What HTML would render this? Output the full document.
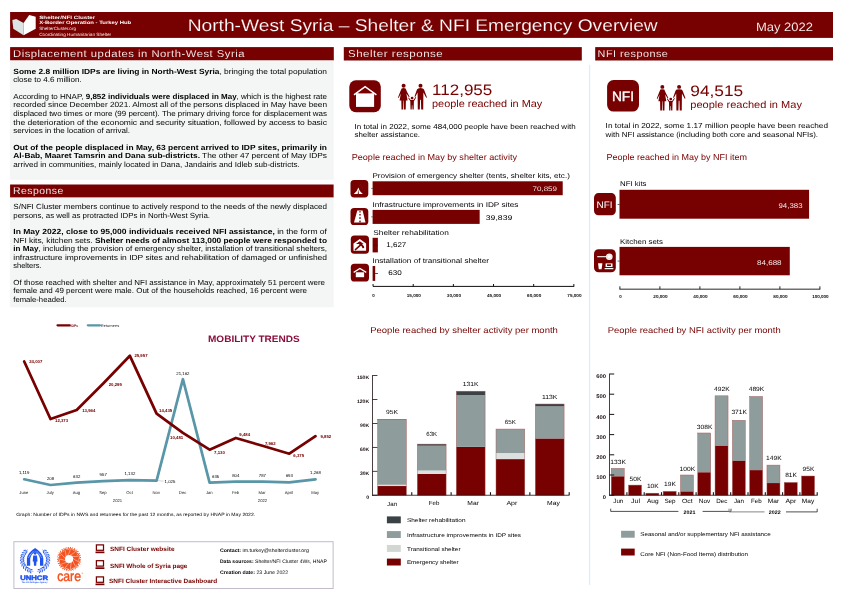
<!DOCTYPE html>
<html><head><meta charset="utf-8"><title>North-West Syria - Shelter &amp; NFI Emergency Overview</title>
<style>
html,body{margin:0;padding:0;background:#fff;}
body{width:842px;height:595px;overflow:hidden;font-family:"Liberation Sans",sans-serif;}
svg{display:block;font-family:"Liberation Sans",sans-serif;will-change:transform;text-rendering:geometricPrecision;}
text{white-space:pre;}
</style></head><body>
<svg width="842" height="595" viewBox="0 0 842 595">
<rect x="10.10" y="12.00" width="822.90" height="25.90" fill="#770000"/>
<polygon points="12.3,20.1 16.3,19.1 23.6,22.9 23.6,35.2 13.3,28.7" fill="#dde4e4"/>
<polygon points="23.6,22.9 29.2,15 35.7,16.8 35.7,28.7 23.6,35.2" fill="#ffffff"/>
<text x="39.2" y="18.6" font-size="4.6" fill="#fff" textLength="56.0" lengthAdjust="spacingAndGlyphs" font-weight="700">Shelter/NFI Cluster</text>
<text x="39.2" y="23.9" font-size="4.6" fill="#fff" textLength="92.0" lengthAdjust="spacingAndGlyphs" font-weight="700">X-Border Operation - Turkey Hub</text>
<text x="39.2" y="30.0" font-size="4.5" fill="#f8eaea" textLength="36.8" lengthAdjust="spacingAndGlyphs">ShelterCluster.org</text>
<text x="39.2" y="36.0" font-size="4.5" fill="#f8eaea" textLength="72.0" lengthAdjust="spacingAndGlyphs">Coordinating Humanitarian Shelter</text>
<text x="187.7" y="30.6" font-size="16.9" fill="#fff" textLength="470.0" lengthAdjust="spacingAndGlyphs" stroke="#770000" stroke-width="0.14">North-West Syria – Shelter &amp; NFI Emergency Overview</text>
<text x="755.9" y="31.1" font-size="12.1" fill="#fff" textLength="57.0" lengthAdjust="spacingAndGlyphs" stroke="#770000" stroke-width="0.1">May 2022</text>
<rect x="10.10" y="47.10" width="323.70" height="13.40" fill="#770000"/>
<text x="13.0" y="56.9" font-size="10.0" fill="#fff" textLength="232.0" lengthAdjust="spacingAndGlyphs" letter-spacing="0.45" stroke="#770000" stroke-width="0.1">Displacement updates in North-West Syria</text>
<rect x="343.80" y="47.10" width="238.00" height="13.40" fill="#770000"/>
<text x="348.0" y="56.9" font-size="10.0" fill="#fff" textLength="95.3" lengthAdjust="spacingAndGlyphs" letter-spacing="0.45" stroke="#770000" stroke-width="0.1">Shelter response</text>
<rect x="595.20" y="47.10" width="237.80" height="13.40" fill="#770000"/>
<text x="597.6" y="56.9" font-size="10.0" fill="#fff" textLength="70.8" lengthAdjust="spacingAndGlyphs" letter-spacing="0.45" stroke="#770000" stroke-width="0.1">NFI response</text>
<rect x="10.10" y="184.50" width="323.50" height="13.10" fill="#770000"/>
<text x="13.0" y="194.3" font-size="10.0" fill="#fff" textLength="50.8" lengthAdjust="spacingAndGlyphs" letter-spacing="0.45" stroke="#770000" stroke-width="0.1">Response</text>
<rect x="9.90" y="60.50" width="323.80" height="119.30" fill="#f4f6f5"/>
<rect x="9.90" y="197.60" width="323.80" height="109.70" fill="#f4f6f5"/>
<rect x="588.90" y="65.00" width="1.30" height="520.00" fill="#e0edf9"/>
<text x="13.3" y="73.7" font-size="7.45" fill="#000" textLength="313.7" lengthAdjust="spacingAndGlyphs"><tspan font-weight="700">Some 2.8 million IDPs are living in North-West Syria</tspan>, bringing the total population</text>
<text x="13.3" y="82.3" font-size="7.45" fill="#000" textLength="68.5" lengthAdjust="spacingAndGlyphs">close to 4.6 million.</text>
<text x="13.3" y="98.8" font-size="7.45" fill="#000" textLength="313.7" lengthAdjust="spacingAndGlyphs">According to HNAP, <tspan font-weight="700">9,852 individuals were displaced in May</tspan>, which is the highest rate</text>
<text x="13.3" y="107.4" font-size="7.45" fill="#000" textLength="313.7" lengthAdjust="spacingAndGlyphs">recorded since December 2021. Almost all of the persons displaced in May have been</text>
<text x="13.3" y="116.0" font-size="7.45" fill="#000" textLength="313.7" lengthAdjust="spacingAndGlyphs">displaced two times or more (99 percent). The primary driving force for displacement was</text>
<text x="13.3" y="124.6" font-size="7.45" fill="#000" textLength="313.7" lengthAdjust="spacingAndGlyphs">the deterioration of the economic and security situation, followed by access to basic</text>
<text x="13.3" y="133.2" font-size="7.45" fill="#000" textLength="116.7" lengthAdjust="spacingAndGlyphs">services in the location of arrival.</text>
<text x="13.3" y="149.6" font-size="7.45" fill="#000" textLength="313.7" lengthAdjust="spacingAndGlyphs"><tspan font-weight="700">Out of the people displaced in May, 63 percent arrived to IDP sites, primarily in</tspan></text>
<text x="13.3" y="158.2" font-size="7.45" fill="#000" textLength="313.7" lengthAdjust="spacingAndGlyphs"><tspan font-weight="700">Al-Bab, Maaret Tamsrin and Dana sub-districts.</tspan> The other 47 percent of May IDPs</text>
<text x="13.3" y="166.8" font-size="7.45" fill="#000" textLength="286.4" lengthAdjust="spacingAndGlyphs">arrived in communities, mainly located in Dana, Jandairis and Idleb sub-districts.</text>
<text x="13.3" y="209.0" font-size="7.45" fill="#000" textLength="313.7" lengthAdjust="spacingAndGlyphs">S/NFI Cluster members continue to actively respond to the needs of the newly displaced</text>
<text x="13.3" y="217.6" font-size="7.45" fill="#000" textLength="196.7" lengthAdjust="spacingAndGlyphs">persons, as well as protracted IDPs in North-West Syria.</text>
<text x="13.3" y="234.0" font-size="7.45" fill="#000" textLength="313.7" lengthAdjust="spacingAndGlyphs"><tspan font-weight="700">In May 2022, close to 95,000 individuals received NFI assistance,</tspan> in the form of</text>
<text x="13.3" y="242.6" font-size="7.45" fill="#000" textLength="313.7" lengthAdjust="spacingAndGlyphs">NFI kits, kitchen sets. <tspan font-weight="700">Shelter needs of almost 113,000 people were responded to</tspan></text>
<text x="13.3" y="251.2" font-size="7.45" fill="#000" textLength="313.7" lengthAdjust="spacingAndGlyphs"><tspan font-weight="700">in May</tspan>, including the provision of emergency shelter, installation of transitional shelters,</text>
<text x="13.3" y="259.8" font-size="7.45" fill="#000" textLength="313.7" lengthAdjust="spacingAndGlyphs">infrastructure improvements in IDP sites and rehabilitation of damaged or unfinished</text>
<text x="13.3" y="268.4" font-size="7.45" fill="#000" textLength="28.3" lengthAdjust="spacingAndGlyphs">shelters.</text>
<text x="13.3" y="284.6" font-size="7.45" fill="#000" textLength="311.7" lengthAdjust="spacingAndGlyphs">Of those reached with shelter and NFI assistance in May, approximately 51 percent were</text>
<text x="13.3" y="293.2" font-size="7.45" fill="#000" textLength="293.7" lengthAdjust="spacingAndGlyphs">female and 49 percent were male. Out of the households reached, 16 percent were</text>
<text x="13.3" y="301.8" font-size="7.45" fill="#000" textLength="53.3" lengthAdjust="spacingAndGlyphs">female-headed.</text>
<rect x="349.30" y="80.30" width="31.50" height="31.90" rx="6.5" ry="6.5" fill="#770000"/>
<rect x="356" y="93.2" width="18.1" height="13.7" fill="#fff"/>
<polygon points="358.6,93.3 365.1,88.4 371.6,93.3" fill="#770000"/>
<polyline points="354.6,94.4 365.1,86.6 375.8,94.4" fill="none" stroke="#fff" stroke-width="1.5" stroke-linecap="square"/>
<g transform="translate(398.00,83.80) scale(1.0)" fill="#770000"><circle cx="5.6" cy="2.0" r="2.0"/><path d="M3.6,4.6 Q5.6,4.0 7.6,4.6 L9.0,8 L11.6,13.0 L10.9,13.5 L8.4,9.6 L9.6,16.6 L7.9,16.6 L7.7,25.8 L6.0,25.8 L5.8,16.6 L5.4,16.6 L5.2,25.8 L3.5,25.8 L3.3,16.6 L1.6,16.6 L2.8,9.6 L0.7,14.2 L0,13.8 L2.2,8 Z"/><circle cx="22.5" cy="2.0" r="2.0"/><path d="M20.2,4.6 Q22.5,4.0 24.8,4.6 Q26.0,5.0 26.4,6.6 L29,13.6 L28.2,14.0 L25.4,8.6 L25.2,25.8 L23.2,25.8 L22.9,16.0 L22.1,16.0 L21.8,25.8 L19.8,25.8 L19.6,8.6 L17.2,13.2 L16.5,12.8 L18.6,6.6 Q19.0,5.0 20.2,4.6 Z"/><circle cx="14.1" cy="14.3" r="1.4"/><path d="M12.7,16.2 L15.5,16.2 L17.6,13.2 L18.2,13.8 L15.9,17.4 L15.7,25.8 L14.5,25.8 L14.3,21.4 L13.9,21.4 L13.7,25.8 L12.5,25.8 L12.3,17.4 L10.2,14.2 L10.8,13.6 Z"/></g>
<text x="432.0" y="94.7" font-size="15.2" fill="#770000" textLength="60.3" lengthAdjust="spacingAndGlyphs">112,955</text>
<text x="432.0" y="107.0" font-size="10.2" fill="#770000" textLength="110.3" lengthAdjust="spacingAndGlyphs">people reached in May</text>
<text x="354.5" y="128.5" font-size="7.2" fill="#000" textLength="221.1" lengthAdjust="spacingAndGlyphs">In total in 2022, some 484,000 people have been reached with</text>
<text x="354.5" y="137.2" font-size="7.2" fill="#000" textLength="65.5" lengthAdjust="spacingAndGlyphs">shelter assistance.</text>
<text x="351.7" y="160.2" font-size="8.6" fill="#770000" textLength="165.3" lengthAdjust="spacingAndGlyphs">People reached in May by shelter activity</text>
<rect x="372.60" y="181.30" width="190.11" height="13.90" fill="#770000"/>
<text x="372.4" y="178.2" font-size="6.9" fill="#000" textLength="197.5" lengthAdjust="spacingAndGlyphs">Provision of emergency shelter (tents, shelter kits, etc.)</text>
<rect x="372.60" y="209.90" width="107.06" height="14.00" fill="#770000"/>
<text x="372.4" y="206.8" font-size="6.9" fill="#000" textLength="146.0" lengthAdjust="spacingAndGlyphs">Infrastructure improvements in IDP sites</text>
<rect x="372.60" y="237.80" width="5.26" height="14.60" fill="#770000"/>
<text x="373.3" y="234.8" font-size="6.9" fill="#000" textLength="75.5" lengthAdjust="spacingAndGlyphs">Shelter rehabilitation</text>
<rect x="372.60" y="266.00" width="2.59" height="14.90" fill="#770000"/>
<text x="372.4" y="262.9" font-size="6.9" fill="#000" textLength="116.5" lengthAdjust="spacingAndGlyphs">Installation of transitional shelter</text>
<text x="557.0" y="190.7" font-size="6.6" fill="#f3e2e2" text-anchor="end" textLength="24.5" lengthAdjust="spacingAndGlyphs">70,859</text>
<text x="485.8" y="220.3" font-size="6.9" fill="#000" textLength="26.5" lengthAdjust="spacingAndGlyphs">39,839</text>
<text x="386.3" y="247.3" font-size="6.9" fill="#000" textLength="20.0" lengthAdjust="spacingAndGlyphs">1,627</text>
<text x="388.2" y="275.4" font-size="6.9" fill="#000" textLength="13.5" lengthAdjust="spacingAndGlyphs">630</text>
<rect x="371.30" y="187.95" width="1.40" height="0.70" fill="#3a1a1a"/>
<rect x="371.30" y="216.55" width="1.40" height="0.70" fill="#3a1a1a"/>
<rect x="375.10" y="273.00" width="2.80" height="0.80" fill="#222"/>
<rect x="373.00" y="244.80" width="4.80" height="0.70" fill="#4a0000"/>
<rect x="373.00" y="285.90" width="201.20" height="1.00" fill="#111"/>
<rect x="372.55" y="284.00" width="1.00" height="2.40" fill="#111"/>
<text x="373.6" y="296.6" font-size="4.4" fill="#111" text-anchor="middle" font-weight="700">0</text>
<rect x="412.71" y="284.00" width="1.00" height="2.40" fill="#111"/>
<text x="413.8" y="296.6" font-size="4.4" fill="#111" text-anchor="middle" textLength="14.2" lengthAdjust="spacingAndGlyphs" font-weight="700">15,000</text>
<rect x="452.87" y="284.00" width="1.00" height="2.40" fill="#111"/>
<text x="453.9" y="296.6" font-size="4.4" fill="#111" text-anchor="middle" textLength="14.2" lengthAdjust="spacingAndGlyphs" font-weight="700">30,000</text>
<rect x="493.03" y="284.00" width="1.00" height="2.40" fill="#111"/>
<text x="494.1" y="296.6" font-size="4.4" fill="#111" text-anchor="middle" textLength="14.2" lengthAdjust="spacingAndGlyphs" font-weight="700">45,000</text>
<rect x="533.19" y="284.00" width="1.00" height="2.40" fill="#111"/>
<text x="534.2" y="296.6" font-size="4.4" fill="#111" text-anchor="middle" textLength="14.2" lengthAdjust="spacingAndGlyphs" font-weight="700">60,000</text>
<rect x="573.35" y="284.00" width="1.00" height="2.40" fill="#111"/>
<text x="574.4" y="296.6" font-size="4.4" fill="#111" text-anchor="middle" textLength="14.2" lengthAdjust="spacingAndGlyphs" font-weight="700">75,000</text>
<rect x="607.10" y="80.00" width="31.90" height="31.60" rx="6.5" ry="6.5" fill="#770000"/>
<text x="611.9" y="100.8" font-size="13.7" fill="#fff" textLength="22.2" lengthAdjust="spacingAndGlyphs" stroke="#fff" stroke-width="0.35">NFI</text>
<g transform="translate(656.80,84.90) scale(0.99)" fill="#770000"><circle cx="5.6" cy="2.0" r="2.0"/><path d="M3.6,4.6 Q5.6,4.0 7.6,4.6 L9.0,8 L11.6,13.0 L10.9,13.5 L8.4,9.6 L9.6,16.6 L7.9,16.6 L7.7,25.8 L6.0,25.8 L5.8,16.6 L5.4,16.6 L5.2,25.8 L3.5,25.8 L3.3,16.6 L1.6,16.6 L2.8,9.6 L0.7,14.2 L0,13.8 L2.2,8 Z"/><circle cx="22.5" cy="2.0" r="2.0"/><path d="M20.2,4.6 Q22.5,4.0 24.8,4.6 Q26.0,5.0 26.4,6.6 L29,13.6 L28.2,14.0 L25.4,8.6 L25.2,25.8 L23.2,25.8 L22.9,16.0 L22.1,16.0 L21.8,25.8 L19.8,25.8 L19.6,8.6 L17.2,13.2 L16.5,12.8 L18.6,6.6 Q19.0,5.0 20.2,4.6 Z"/><circle cx="14.1" cy="14.3" r="1.4"/><path d="M12.7,16.2 L15.5,16.2 L17.6,13.2 L18.2,13.8 L15.9,17.4 L15.7,25.8 L14.5,25.8 L14.3,21.4 L13.9,21.4 L13.7,25.8 L12.5,25.8 L12.3,17.4 L10.2,14.2 L10.8,13.6 Z"/></g>
<text x="690.3" y="96.0" font-size="15.2" fill="#770000" textLength="52.9" lengthAdjust="spacingAndGlyphs">94,515</text>
<text x="690.3" y="107.9" font-size="10.2" fill="#770000" textLength="111.6" lengthAdjust="spacingAndGlyphs">people reached in May</text>
<text x="605.6" y="128.0" font-size="7.2" fill="#000" textLength="222.4" lengthAdjust="spacingAndGlyphs">In total in 2022, some 1.17 million people have been reached</text>
<text x="605.6" y="137.0" font-size="7.2" fill="#000" textLength="212.4" lengthAdjust="spacingAndGlyphs">with NFI assistance (including both core and seasonal NFIs).</text>
<text x="606.5" y="160.2" font-size="8.6" fill="#770000" textLength="140.6" lengthAdjust="spacingAndGlyphs">People reached in May by NFI item</text>
<text x="620.0" y="185.6" font-size="6.9" fill="#000" textLength="26.5" lengthAdjust="spacingAndGlyphs">NFI kits</text>
<rect x="619.50" y="189.80" width="189.57" height="28.90" fill="#770000"/>
<text x="802.5" y="207.5" font-size="6.9" fill="#f3e2e2" text-anchor="end" textLength="24.0" lengthAdjust="spacingAndGlyphs">94,383</text>
<text x="620.0" y="244.3" font-size="6.9" fill="#000" textLength="43.0" lengthAdjust="spacingAndGlyphs">Kitchen sets</text>
<rect x="619.50" y="246.90" width="170.28" height="28.40" fill="#770000"/>
<text x="781.6" y="264.6" font-size="6.9" fill="#f3e2e2" text-anchor="end" textLength="24.6" lengthAdjust="spacingAndGlyphs">84,688</text>
<rect x="594.00" y="193.10" width="21.80" height="22.10" rx="4.5" ry="4.5" fill="#770000"/>
<text x="596.6" y="207.7" font-size="9.5" fill="#fff" textLength="16.0" lengthAdjust="spacingAndGlyphs">NFI</text>
<rect x="594.00" y="249.20" width="21.80" height="23.00" rx="4.5" ry="4.5" fill="#770000"/>
<line x1="597.2" y1="256.7" x2="606.2" y2="256.7" stroke="#fff" stroke-width="1.1"/>
<circle cx="609.3" cy="256.7" r="3.3" fill="#fff"/>
<circle cx="609.3" cy="256.7" r="2.1" fill="none" stroke="#e3c4c4" stroke-width="0.5"/>
<polygon points="598.0,263.2 602.4,263.2 601.6,269.2 598.8,269.2" fill="#fff"/>
<rect x="605.6" y="263.4" width="6.9" height="3.6" fill="#fff"/>
<rect x="607.0" y="264.3" width="4.0" height="1.7" fill="#770000"/>
<rect x="604.6" y="268.0" width="8.8" height="1.2" fill="#fff"/>
<rect x="617.60" y="204.20" width="2.00" height="0.70" fill="#222"/>
<rect x="617.60" y="260.70" width="2.00" height="0.70" fill="#222"/>
<rect x="619.50" y="288.70" width="200.80" height="0.90" fill="#111"/>
<rect x="619.45" y="286.30" width="0.90" height="2.90" fill="#111"/>
<text x="620.4" y="297.7" font-size="4.4" fill="#111" text-anchor="middle" font-weight="700">0</text>
<rect x="659.45" y="286.30" width="0.90" height="2.90" fill="#111"/>
<text x="660.4" y="297.7" font-size="4.4" fill="#111" text-anchor="middle" textLength="14.2" lengthAdjust="spacingAndGlyphs" font-weight="700">20,000</text>
<rect x="699.45" y="286.30" width="0.90" height="2.90" fill="#111"/>
<text x="700.4" y="297.7" font-size="4.4" fill="#111" text-anchor="middle" textLength="14.2" lengthAdjust="spacingAndGlyphs" font-weight="700">40,000</text>
<rect x="739.45" y="286.30" width="0.90" height="2.90" fill="#111"/>
<text x="740.4" y="297.7" font-size="4.4" fill="#111" text-anchor="middle" textLength="14.2" lengthAdjust="spacingAndGlyphs" font-weight="700">60,000</text>
<rect x="779.45" y="286.30" width="0.90" height="2.90" fill="#111"/>
<text x="780.4" y="297.7" font-size="4.4" fill="#111" text-anchor="middle" textLength="14.2" lengthAdjust="spacingAndGlyphs" font-weight="700">80,000</text>
<rect x="819.45" y="286.30" width="0.90" height="2.90" fill="#111"/>
<text x="820.4" y="297.7" font-size="4.4" fill="#111" text-anchor="middle" textLength="16.5" lengthAdjust="spacingAndGlyphs" font-weight="700">100,000</text>
<text x="208.0" y="342.2" font-size="9.3" fill="#8a0f3c" textLength="91.7" lengthAdjust="spacingAndGlyphs" font-weight="700">MOBILITY TRENDS</text>
<line x1="57.5" y1="325.3" x2="69.7" y2="325.3" stroke="#770000" stroke-width="2.2" stroke-linecap="round"/>
<text x="70.5" y="326.7" font-size="3.8" fill="#770000" textLength="7.5" lengthAdjust="spacingAndGlyphs" font-weight="700">IDPs</text>
<line x1="87.8" y1="325.3" x2="100" y2="325.3" stroke="#5896a8" stroke-width="2.2" stroke-linecap="round"/>
<text x="100.8" y="326.7" font-size="3.8" fill="#222" textLength="18.5" lengthAdjust="spacingAndGlyphs">Returnees</text>
<polyline points="24.2,479.3 50.5,485.0 76.7,482.6 103.2,481.2 129.9,480.2 156.6,480.6 182.9,379.2 209.6,482.6 235.8,481.6 262.4,481.7 289.3,482.4 315.5,479.3" fill="none" stroke="#5896a8" stroke-width="2.7" stroke-linejoin="round" stroke-linecap="round"/>
<polyline points="24.2,361.5 50.5,419.0 76.7,410.0 103.2,383.5 129.9,355.8 156.6,413.7 182.9,432.8 209.6,449.7 235.8,438.0 262.4,445.8 289.3,453.7 315.5,436.2" fill="none" stroke="#770000" stroke-width="2.75" stroke-linejoin="round" stroke-linecap="round"/>
<text x="29.2" y="362.5" font-size="4.3" fill="#770000" font-weight="700">24,007</text>
<text x="55.0" y="422.4" font-size="4.3" fill="#770000" font-weight="700">12,373</text>
<text x="82.2" y="411.8" font-size="4.3" fill="#770000" font-weight="700">13,964</text>
<text x="108.7" y="385.9" font-size="4.3" fill="#770000" font-weight="700">20,295</text>
<text x="134.4" y="357.2" font-size="4.3" fill="#770000" font-weight="700">25,957</text>
<text x="159.1" y="411.5" font-size="4.3" fill="#770000" font-weight="700">14,435</text>
<text x="170.1" y="438.6" font-size="4.3" fill="#770000" font-weight="700">10,481</text>
<text x="214.1" y="454.1" font-size="4.3" fill="#770000" font-weight="700">7,130</text>
<text x="239.3" y="436.0" font-size="4.3" fill="#770000" font-weight="700">9,484</text>
<text x="264.9" y="444.6" font-size="4.3" fill="#770000" font-weight="700">7,962</text>
<text x="293.3" y="456.5" font-size="4.3" fill="#770000" font-weight="700">6,375</text>
<text x="320.5" y="437.8" font-size="4.3" fill="#770000" font-weight="700">9,852</text>
<text x="24.2" y="474.3" font-size="4.3" fill="#000" text-anchor="middle">1,119</text>
<text x="50.5" y="480.0" font-size="4.3" fill="#000" text-anchor="middle">208</text>
<text x="76.7" y="477.6" font-size="4.3" fill="#000" text-anchor="middle">632</text>
<text x="103.2" y="476.2" font-size="4.3" fill="#000" text-anchor="middle">957</text>
<text x="129.9" y="475.2" font-size="4.3" fill="#000" text-anchor="middle">1,132</text>
<line x1="158.1" y1="480.6" x2="163.6" y2="481.20000000000005" stroke="#999" stroke-width="0.4"/>
<text x="164.6" y="482.5" font-size="4.3" fill="#000">1,025</text>
<text x="182.9" y="375.0" font-size="4.3" fill="#000" text-anchor="middle">21,162</text>
<text x="215.6" y="478.0" font-size="4.3" fill="#000" text-anchor="middle">635</text>
<text x="235.8" y="476.6" font-size="4.3" fill="#000" text-anchor="middle">804</text>
<text x="262.4" y="476.7" font-size="4.3" fill="#000" text-anchor="middle">787</text>
<text x="289.3" y="477.4" font-size="4.3" fill="#000" text-anchor="middle">693</text>
<text x="315.5" y="474.3" font-size="4.3" fill="#000" text-anchor="middle">1,268</text>
<text x="23.9" y="494.3" font-size="4.2" fill="#222" text-anchor="middle">June</text>
<text x="50.2" y="494.3" font-size="4.2" fill="#222" text-anchor="middle">July</text>
<text x="76.4" y="494.3" font-size="4.2" fill="#222" text-anchor="middle">Aug</text>
<text x="102.9" y="494.3" font-size="4.2" fill="#222" text-anchor="middle">Sep</text>
<text x="129.6" y="494.3" font-size="4.2" fill="#222" text-anchor="middle">Oct</text>
<text x="156.3" y="494.3" font-size="4.2" fill="#222" text-anchor="middle">Nov</text>
<text x="182.6" y="494.3" font-size="4.2" fill="#222" text-anchor="middle">Dec</text>
<text x="209.3" y="494.3" font-size="4.2" fill="#222" text-anchor="middle">Jan</text>
<text x="235.5" y="494.3" font-size="4.2" fill="#222" text-anchor="middle">Feb</text>
<text x="262.1" y="494.3" font-size="4.2" fill="#222" text-anchor="middle">Mar</text>
<text x="289.0" y="494.3" font-size="4.2" fill="#222" text-anchor="middle">April</text>
<text x="315.2" y="494.3" font-size="4.2" fill="#222" text-anchor="middle">May</text>
<text x="117.5" y="501.8" font-size="4.2" fill="#222" text-anchor="middle">2021</text>
<text x="262.5" y="501.8" font-size="4.2" fill="#222" text-anchor="middle">2022</text>
<text x="16.2" y="516.0" font-size="4.6" fill="#000" textLength="239.0" lengthAdjust="spacingAndGlyphs">Graph: Number of IDPs in NWS and returnees for the past 12 months, as reported by HNAP in May 2022.</text>
<rect x="13.9" y="541.7" width="319.2" height="46.8" fill="#fff" stroke="#c2bbca" stroke-width="1"/>
<g fill="#1f55ee" stroke="none"><polyline points="33.29,571.48 30.76,570.91 28.40,569.89 26.32,568.45 24.58,566.65 23.27,564.58 22.43,562.30 22.10,559.91 22.30,557.52 23.00,555.20 24.20,553.06 25.83,551.19 27.83,549.65" fill="none" stroke="#1f55ee" stroke-width="0.45"/><ellipse cx="30.33" cy="572.14" rx="1.55" ry="0.5" transform="rotate(-128.5 30.33 572.14)"/><ellipse cx="31.19" cy="569.69" rx="1.55" ry="0.5" transform="rotate(-192.5 31.19 569.69)"/><ellipse cx="27.73" cy="571.00" rx="1.55" ry="0.5" transform="rotate(-117.0 27.73 571.00)"/><ellipse cx="29.07" cy="568.77" rx="1.55" ry="0.5" transform="rotate(-181.0 29.07 568.77)"/><ellipse cx="25.44" cy="569.41" rx="1.55" ry="0.5" transform="rotate(-105.5 25.44 569.41)"/><ellipse cx="27.20" cy="567.49" rx="1.55" ry="0.5" transform="rotate(-169.5 27.20 567.49)"/><ellipse cx="23.53" cy="567.42" rx="1.55" ry="0.5" transform="rotate(-94.0 23.53 567.42)"/><ellipse cx="25.63" cy="565.89" rx="1.55" ry="0.5" transform="rotate(-158.0 25.63 565.89)"/><ellipse cx="22.09" cy="565.12" rx="1.55" ry="0.5" transform="rotate(-82.5 22.09 565.12)"/><ellipse cx="24.45" cy="564.04" rx="1.55" ry="0.5" transform="rotate(-146.5 24.45 564.04)"/><ellipse cx="21.17" cy="562.59" rx="1.55" ry="0.5" transform="rotate(-71.0 21.17 562.59)"/><ellipse cx="23.70" cy="562.01" rx="1.55" ry="0.5" transform="rotate(-135.0 23.70 562.01)"/><ellipse cx="20.80" cy="559.95" rx="1.55" ry="0.5" transform="rotate(-59.5 20.80 559.95)"/><ellipse cx="23.40" cy="559.88" rx="1.55" ry="0.5" transform="rotate(-123.5 23.40 559.88)"/><ellipse cx="21.02" cy="557.29" rx="1.55" ry="0.5" transform="rotate(-48.0 21.02 557.29)"/><ellipse cx="23.58" cy="557.74" rx="1.55" ry="0.5" transform="rotate(-112.0 23.58 557.74)"/><ellipse cx="21.80" cy="554.73" rx="1.55" ry="0.5" transform="rotate(-36.5 21.80 554.73)"/><ellipse cx="24.21" cy="555.68" rx="1.55" ry="0.5" transform="rotate(-100.5 24.21 555.68)"/><ellipse cx="23.11" cy="552.36" rx="1.55" ry="0.5" transform="rotate(-25.0 23.11 552.36)"/><ellipse cx="25.29" cy="553.77" rx="1.55" ry="0.5" transform="rotate(-89.0 25.29 553.77)"/><ellipse cx="24.90" cy="550.28" rx="1.55" ry="0.5" transform="rotate(-13.5 24.90 550.28)"/><ellipse cx="26.75" cy="552.10" rx="1.55" ry="0.5" transform="rotate(-77.5 26.75 552.10)"/><polyline points="36.91,571.48 39.44,570.91 41.80,569.89 43.88,568.45 45.62,566.65 46.93,564.58 47.77,562.30 48.10,559.91 47.90,557.52 47.20,555.20 46.00,553.06 44.37,551.19 42.37,549.65" fill="none" stroke="#1f55ee" stroke-width="0.45"/><ellipse cx="39.87" cy="572.14" rx="1.55" ry="0.5" transform="rotate(308.5 39.87 572.14)"/><ellipse cx="39.01" cy="569.69" rx="1.55" ry="0.5" transform="rotate(372.5 39.01 569.69)"/><ellipse cx="42.47" cy="571.00" rx="1.55" ry="0.5" transform="rotate(297.0 42.47 571.00)"/><ellipse cx="41.13" cy="568.77" rx="1.55" ry="0.5" transform="rotate(361.0 41.13 568.77)"/><ellipse cx="44.76" cy="569.41" rx="1.55" ry="0.5" transform="rotate(285.5 44.76 569.41)"/><ellipse cx="43.00" cy="567.49" rx="1.55" ry="0.5" transform="rotate(349.5 43.00 567.49)"/><ellipse cx="46.67" cy="567.42" rx="1.55" ry="0.5" transform="rotate(274.0 46.67 567.42)"/><ellipse cx="44.57" cy="565.89" rx="1.55" ry="0.5" transform="rotate(338.0 44.57 565.89)"/><ellipse cx="48.11" cy="565.12" rx="1.55" ry="0.5" transform="rotate(262.5 48.11 565.12)"/><ellipse cx="45.75" cy="564.04" rx="1.55" ry="0.5" transform="rotate(326.5 45.75 564.04)"/><ellipse cx="49.03" cy="562.59" rx="1.55" ry="0.5" transform="rotate(251.0 49.03 562.59)"/><ellipse cx="46.50" cy="562.01" rx="1.55" ry="0.5" transform="rotate(315.0 46.50 562.01)"/><ellipse cx="49.40" cy="559.95" rx="1.55" ry="0.5" transform="rotate(239.5 49.40 559.95)"/><ellipse cx="46.80" cy="559.88" rx="1.55" ry="0.5" transform="rotate(303.5 46.80 559.88)"/><ellipse cx="49.18" cy="557.29" rx="1.55" ry="0.5" transform="rotate(228.0 49.18 557.29)"/><ellipse cx="46.62" cy="557.74" rx="1.55" ry="0.5" transform="rotate(292.0 46.62 557.74)"/><ellipse cx="48.40" cy="554.73" rx="1.55" ry="0.5" transform="rotate(216.5 48.40 554.73)"/><ellipse cx="45.99" cy="555.68" rx="1.55" ry="0.5" transform="rotate(280.5 45.99 555.68)"/><ellipse cx="47.09" cy="552.36" rx="1.55" ry="0.5" transform="rotate(205.0 47.09 552.36)"/><ellipse cx="44.91" cy="553.77" rx="1.55" ry="0.5" transform="rotate(269.0 44.91 553.77)"/><ellipse cx="45.30" cy="550.28" rx="1.55" ry="0.5" transform="rotate(193.5 45.30 550.28)"/><ellipse cx="43.45" cy="552.10" rx="1.55" ry="0.5" transform="rotate(257.5 43.45 552.10)"/><path d="M26.9,565.8 L26.9,558.6 Q27.6,552.6 35.1,548.0 Q42.6,552.6 43.3,558.6 L43.3,565.8 L40.0,565.8 L40.0,559.0 Q39.6,555.0 35.1,551.6 Q30.6,555.0 30.2,559.0 L30.2,565.8 Z"/><path d="M29.0,556.0 L33.6,551.0 M41.2,556.0 L36.6,551.0 M28.2,558.0 L31.6,553.6 M42.0,558.0 L38.6,553.6" stroke="#fff" stroke-width="0.35" fill="none"/><circle cx="35.1" cy="553.3" r="1.35"/><path d="M33.2,555.4 L37.0,555.4 L37.5,561.4 L36.5,561.4 L36.2,565.8 L34.0,565.8 L33.7,561.4 L32.7,561.4 Z"/></g>
<text x="20.2" y="579.9" font-size="6.5" fill="#1f55ee" textLength="27.8" lengthAdjust="spacingAndGlyphs" font-weight="700" stroke="#1f55ee" stroke-width="0.45">UNHCR</text>
<text x="21.5" y="582.6" font-size="2.2" fill="#1f55ee" textLength="26.0" lengthAdjust="spacingAndGlyphs" font-weight="700">The UN Refugee Agency</text>
<g fill="none" stroke="#f4511e" stroke-linecap="round"><circle cx="69.1" cy="559.0" r="6.9" stroke-width="5.6"/><line x1="77.99" y1="561.36" x2="80.78" y2="559.70" stroke-width="0.95"/><line x1="77.99" y1="561.36" x2="80.41" y2="562.00" stroke-width="0.95"/><line x1="77.99" y1="561.36" x2="79.59" y2="564.19" stroke-width="0.95"/><line x1="77.99" y1="561.36" x2="77.48" y2="565.50" stroke-width="0.95"/><line x1="75.30" y1="565.79" x2="78.55" y2="565.90" stroke-width="0.95"/><line x1="75.30" y1="565.79" x2="76.99" y2="567.64" stroke-width="0.95"/><line x1="75.30" y1="565.79" x2="75.12" y2="569.04" stroke-width="0.95"/><line x1="75.30" y1="565.79" x2="72.63" y2="568.99" stroke-width="0.95"/><line x1="70.65" y1="568.07" x2="73.32" y2="569.91" stroke-width="0.95"/><line x1="70.65" y1="568.07" x2="71.07" y2="570.53" stroke-width="0.95"/><line x1="70.65" y1="568.07" x2="68.73" y2="570.69" stroke-width="0.95"/><line x1="70.65" y1="568.07" x2="66.67" y2="569.32" stroke-width="0.95"/><line x1="65.50" y1="567.47" x2="66.75" y2="570.46" stroke-width="0.95"/><line x1="65.50" y1="567.47" x2="64.52" y2="569.77" stroke-width="0.95"/><line x1="65.50" y1="567.47" x2="62.47" y2="568.64" stroke-width="0.95"/><line x1="65.50" y1="567.47" x2="61.48" y2="566.37" stroke-width="0.95"/><line x1="61.49" y1="564.17" x2="60.92" y2="567.37" stroke-width="0.95"/><line x1="61.49" y1="564.17" x2="59.42" y2="565.58" stroke-width="0.95"/><line x1="61.49" y1="564.17" x2="58.31" y2="563.53" stroke-width="0.95"/><line x1="61.49" y1="564.17" x2="58.71" y2="561.08" stroke-width="0.95"/><line x1="59.90" y1="559.24" x2="57.70" y2="561.62" stroke-width="0.95"/><line x1="59.90" y1="559.24" x2="57.40" y2="559.30" stroke-width="0.95"/><line x1="59.90" y1="559.24" x2="57.58" y2="556.97" stroke-width="0.95"/><line x1="59.90" y1="559.24" x2="59.23" y2="555.13" stroke-width="0.95"/><line x1="61.23" y1="554.23" x2="58.09" y2="555.04" stroke-width="0.95"/><line x1="61.23" y1="554.23" x2="59.10" y2="552.93" stroke-width="0.95"/><line x1="61.23" y1="554.23" x2="60.50" y2="551.07" stroke-width="0.95"/><line x1="61.23" y1="554.23" x2="62.89" y2="550.41" stroke-width="0.95"/><line x1="65.06" y1="550.73" x2="61.98" y2="549.72" stroke-width="0.95"/><line x1="65.06" y1="550.73" x2="63.96" y2="548.49" stroke-width="0.95"/><line x1="65.06" y1="550.73" x2="66.16" y2="547.68" stroke-width="0.95"/><line x1="65.06" y1="550.73" x2="68.52" y2="548.42" stroke-width="0.95"/><line x1="70.17" y1="549.86" x2="68.13" y2="547.34" stroke-width="0.95"/><line x1="70.17" y1="549.86" x2="70.46" y2="547.38" stroke-width="0.95"/><line x1="70.17" y1="549.86" x2="72.75" y2="547.88" stroke-width="0.95"/><line x1="70.17" y1="549.86" x2="74.34" y2="549.78" stroke-width="0.95"/><line x1="74.94" y1="551.89" x2="74.59" y2="548.67" stroke-width="0.95"/><line x1="74.94" y1="551.89" x2="76.53" y2="549.96" stroke-width="0.95"/><line x1="74.94" y1="551.89" x2="78.18" y2="551.62" stroke-width="0.95"/><line x1="74.94" y1="551.89" x2="78.49" y2="554.08" stroke-width="0.95"/><line x1="77.86" y1="556.18" x2="79.30" y2="553.27" stroke-width="0.95"/><line x1="77.86" y1="556.18" x2="80.24" y2="555.41" stroke-width="0.95"/><line x1="77.86" y1="556.18" x2="80.73" y2="557.70" stroke-width="0.95"/><line x1="77.86" y1="556.18" x2="79.66" y2="559.94" stroke-width="0.95"/></g><g fill="none" stroke="#fff" stroke-width="0.45" stroke-linecap="round"><path d="M73.28,558.56 Q75.89,560.70 78.53,561.66"/><path d="M72.85,560.89 Q73.89,564.10 75.59,566.34"/><path d="M71.23,562.62 Q70.37,565.88 70.59,568.69"/><path d="M68.94,563.20 Q66.45,565.48 65.12,567.96"/><path d="M66.70,562.44 Q63.37,563.02 60.91,564.38"/><path d="M65.22,560.60 Q62.11,559.28 59.30,559.10"/><path d="M64.97,558.24 Q63.06,555.46 60.80,553.79"/><path d="M66.03,556.13 Q65.94,552.75 64.94,550.13"/><path d="M68.07,554.93 Q69.82,552.04 70.39,549.29"/><path d="M70.44,555.02 Q73.47,553.53 75.44,551.53"/><path d="M72.38,556.37 Q75.73,556.76 78.47,556.14"/></g>
<text x="57.2" y="581.1" font-size="14.2" fill="#f4511e" textLength="23.8" lengthAdjust="spacingAndGlyphs" stroke="#f4511e" stroke-width="0.45">care</text>
<text x="81.6" y="574.0" font-size="2.4" fill="#f4511e">®</text>
<rect x="96.40" y="544.90" width="7.1" height="5.4" fill="#fff" stroke="#770000" stroke-width="1.25"/>
<rect x="95.50" y="551.50" width="8.9" height="1.7" fill="#770000"/>
<rect x="96.40" y="560.70" width="7.1" height="5.4" fill="#fff" stroke="#770000" stroke-width="1.25"/>
<rect x="95.50" y="567.30" width="8.9" height="1.7" fill="#770000"/>
<rect x="96.40" y="576.90" width="7.1" height="5.4" fill="#fff" stroke="#770000" stroke-width="1.25"/>
<rect x="95.50" y="583.50" width="8.9" height="1.7" fill="#770000"/>
<text x="110.0" y="551.0" font-size="6.2" fill="#770000" textLength="64.5" lengthAdjust="spacingAndGlyphs" font-weight="700">SNFI Cluster website</text>
<text x="110.0" y="568.3" font-size="6.2" fill="#770000" textLength="77.4" lengthAdjust="spacingAndGlyphs" font-weight="700">SNFI Whole of Syria page</text>
<text x="109.0" y="583.2" font-size="6.2" fill="#770000" textLength="108.3" lengthAdjust="spacingAndGlyphs" font-weight="700">SNFI Cluster Interactive Dashboard</text>
<text x="219.9" y="551.9" font-size="5.0" fill="#000" textLength="89.0" lengthAdjust="spacingAndGlyphs"><tspan font-weight="700">Contact:</tspan> im.turkey@sheltercluster.org</text>
<text x="219.9" y="563.0" font-size="5.0" fill="#000" textLength="107.0" lengthAdjust="spacingAndGlyphs"><tspan font-weight="700">Data sources:</tspan> Shelter/NFI Cluster 4Ws, HNAP</text>
<text x="219.9" y="573.8" font-size="5.0" fill="#000" textLength="68.2" lengthAdjust="spacingAndGlyphs"><tspan font-weight="700">Creation date:</tspan> 23 June 2022</text>
<text x="370.2" y="333.0" font-size="8.4" fill="#770000" textLength="187.7" lengthAdjust="spacingAndGlyphs">People reached by shelter activity per month</text>
<rect x="377.60" y="486.03" width="28.80" height="9.17" fill="#770000"/>
<rect x="377.60" y="484.76" width="28.80" height="1.28" fill="#dce1e0"/>
<rect x="377.60" y="419.96" width="28.80" height="64.80" fill="#8e9c9b"/>
<rect x="377.60" y="419.41" width="28.80" height="0.56" fill="#3b4245"/>
<rect x="377.60" y="419.41" width="28.80" height="75.79" fill="none" stroke="#a85a5a" stroke-width="0.45"/>
<text x="392.0" y="414.1" font-size="6.0" fill="#000" text-anchor="middle" textLength="12.0" lengthAdjust="spacingAndGlyphs">95K</text>
<rect x="417.30" y="474.00" width="28.80" height="21.20" fill="#770000"/>
<rect x="417.30" y="470.49" width="28.80" height="3.51" fill="#dce1e0"/>
<rect x="417.30" y="445.71" width="28.80" height="24.79" fill="#8e9c9b"/>
<rect x="417.30" y="444.11" width="28.80" height="1.59" fill="#3b4245"/>
<rect x="417.30" y="444.11" width="28.80" height="51.09" fill="none" stroke="#a85a5a" stroke-width="0.45"/>
<text x="431.7" y="436.0" font-size="6.0" fill="#000" text-anchor="middle" textLength="10.8" lengthAdjust="spacingAndGlyphs">63K</text>
<rect x="456.30" y="446.82" width="28.80" height="48.38" fill="#770000"/>
<rect x="456.30" y="395.10" width="28.80" height="51.73" fill="#8e9c9b"/>
<rect x="456.30" y="391.19" width="28.80" height="3.91" fill="#3b4245"/>
<rect x="456.30" y="391.19" width="28.80" height="104.01" fill="none" stroke="#a85a5a" stroke-width="0.45"/>
<text x="470.7" y="385.9" font-size="6.0" fill="#000" text-anchor="middle" textLength="15.7" lengthAdjust="spacingAndGlyphs">131K</text>
<rect x="496.00" y="459.10" width="28.80" height="36.10" fill="#770000"/>
<rect x="496.00" y="453.04" width="28.80" height="6.06" fill="#dce1e0"/>
<rect x="496.00" y="429.05" width="28.80" height="23.99" fill="#8e9c9b"/>
<rect x="496.00" y="429.05" width="28.80" height="66.15" fill="none" stroke="#a85a5a" stroke-width="0.45"/>
<text x="510.4" y="423.7" font-size="6.0" fill="#000" text-anchor="middle" textLength="11.1" lengthAdjust="spacingAndGlyphs">65K</text>
<rect x="535.30" y="438.45" width="28.80" height="56.75" fill="#770000"/>
<rect x="535.30" y="406.33" width="28.80" height="32.12" fill="#8e9c9b"/>
<rect x="535.30" y="404.02" width="28.80" height="2.31" fill="#3b4245"/>
<rect x="535.30" y="404.02" width="28.80" height="91.18" fill="none" stroke="#a85a5a" stroke-width="0.45"/>
<text x="549.7" y="398.7" font-size="6.0" fill="#000" text-anchor="middle" textLength="15.4" lengthAdjust="spacingAndGlyphs">113K</text>
<rect x="372.00" y="375.20" width="0.80" height="120.40" fill="#1c1212"/>
<rect x="372.00" y="494.80" width="197.40" height="0.80" fill="#1c1212"/>
<rect x="372.40" y="494.80" width="5.00" height="0.80" fill="#1c1212"/>
<text x="369.2" y="498.9" font-size="4.9" fill="#1c1212" text-anchor="end" textLength="3.0" lengthAdjust="spacingAndGlyphs" font-weight="700">0</text>
<rect x="372.40" y="470.88" width="5.00" height="0.80" fill="#1c1212"/>
<text x="369.2" y="475.0" font-size="4.9" fill="#1c1212" text-anchor="end" textLength="9.3" lengthAdjust="spacingAndGlyphs" font-weight="700">30K</text>
<rect x="372.40" y="446.96" width="5.00" height="0.80" fill="#1c1212"/>
<text x="369.2" y="451.1" font-size="4.9" fill="#1c1212" text-anchor="end" textLength="9.3" lengthAdjust="spacingAndGlyphs" font-weight="700">60K</text>
<rect x="372.40" y="423.04" width="5.00" height="0.80" fill="#1c1212"/>
<text x="369.2" y="427.1" font-size="4.9" fill="#1c1212" text-anchor="end" textLength="9.3" lengthAdjust="spacingAndGlyphs" font-weight="700">90K</text>
<rect x="372.40" y="399.12" width="5.00" height="0.80" fill="#1c1212"/>
<text x="369.2" y="403.2" font-size="4.9" fill="#1c1212" text-anchor="end" textLength="12.3" lengthAdjust="spacingAndGlyphs" font-weight="700">120K</text>
<rect x="372.40" y="375.20" width="5.00" height="0.80" fill="#1c1212"/>
<text x="369.2" y="379.3" font-size="4.9" fill="#1c1212" text-anchor="end" textLength="12.3" lengthAdjust="spacingAndGlyphs" font-weight="700">150K</text>
<rect x="411.21" y="492.20" width="1.10" height="3.00" fill="#1c1212"/>
<rect x="450.57" y="492.20" width="1.10" height="3.00" fill="#1c1212"/>
<rect x="489.93" y="492.20" width="1.10" height="3.00" fill="#1c1212"/>
<rect x="529.29" y="492.20" width="1.10" height="3.00" fill="#1c1212"/>
<rect x="568.65" y="492.20" width="1.10" height="3.00" fill="#1c1212"/>
<text x="392.1" y="505.6" font-size="6.0" fill="#000" text-anchor="middle" textLength="10.0" lengthAdjust="spacingAndGlyphs">Jan</text>
<text x="434.1" y="504.8" font-size="6.0" fill="#000" text-anchor="middle" textLength="10.6" lengthAdjust="spacingAndGlyphs">Feb</text>
<text x="473.1" y="504.8" font-size="6.0" fill="#000" text-anchor="middle" textLength="11.6" lengthAdjust="spacingAndGlyphs">Mar</text>
<text x="511.9" y="504.8" font-size="6.0" fill="#000" text-anchor="middle" textLength="11.0" lengthAdjust="spacingAndGlyphs">Apr</text>
<text x="553.5" y="504.8" font-size="6.0" fill="#000" text-anchor="middle" textLength="12.8" lengthAdjust="spacingAndGlyphs">May</text>
<rect x="386.90" y="516.40" width="13.90" height="6.90" fill="#3b4245"/>
<text x="407.0" y="521.7" font-size="5.5" fill="#000" textLength="58.5" lengthAdjust="spacingAndGlyphs">Shelter rehabilitation</text>
<rect x="386.90" y="531.10" width="13.90" height="6.90" fill="#8e9c9b"/>
<text x="407.0" y="536.6" font-size="5.5" fill="#000" textLength="114.0" lengthAdjust="spacingAndGlyphs">Infrastructure improvements in IDP sites</text>
<rect x="386.90" y="545.00" width="13.90" height="6.90" fill="#d3d7d3"/>
<text x="407.0" y="550.5" font-size="5.5" fill="#000" textLength="53.5" lengthAdjust="spacingAndGlyphs">Transitional shelter</text>
<rect x="386.90" y="558.60" width="13.90" height="6.90" fill="#770000"/>
<text x="407.0" y="563.7" font-size="5.5" fill="#000" textLength="51.5" lengthAdjust="spacingAndGlyphs">Emergency shelter</text>
<text x="607.7" y="333.0" font-size="8.4" fill="#770000" textLength="173.0" lengthAdjust="spacingAndGlyphs">People reached by NFI activity per month</text>
<rect x="611.25" y="468.33" width="13.00" height="8.08" fill="#8e9c9b"/>
<rect x="611.25" y="476.41" width="13.00" height="18.79" fill="#770000"/>
<rect x="611.25" y="468.33" width="13.00" height="26.87" fill="none" stroke="#a85a5a" stroke-width="0.45"/>
<text x="618.1" y="464.0" font-size="6.1" fill="#000" text-anchor="middle" textLength="15.6" lengthAdjust="spacingAndGlyphs">133K</text>
<rect x="628.55" y="485.10" width="13.00" height="10.10" fill="#770000"/>
<rect x="628.55" y="485.10" width="13.00" height="10.10" fill="none" stroke="#a85a5a" stroke-width="0.45"/>
<text x="635.4" y="480.5" font-size="6.1" fill="#000" text-anchor="middle" textLength="11.8" lengthAdjust="spacingAndGlyphs">50K</text>
<rect x="645.85" y="493.18" width="13.00" height="2.02" fill="#770000"/>
<rect x="645.85" y="493.18" width="13.00" height="2.02" fill="none" stroke="#a85a5a" stroke-width="0.45"/>
<text x="652.8" y="487.6" font-size="6.1" fill="#000" text-anchor="middle" textLength="11.8" lengthAdjust="spacingAndGlyphs">10K</text>
<rect x="663.15" y="491.36" width="13.00" height="3.84" fill="#770000"/>
<rect x="663.15" y="491.36" width="13.00" height="3.84" fill="none" stroke="#a85a5a" stroke-width="0.45"/>
<text x="670.0" y="485.6" font-size="6.1" fill="#000" text-anchor="middle" textLength="11.8" lengthAdjust="spacingAndGlyphs">19K</text>
<rect x="680.45" y="475.00" width="13.00" height="16.56" fill="#8e9c9b"/>
<rect x="680.45" y="491.56" width="13.00" height="3.64" fill="#770000"/>
<rect x="680.45" y="475.00" width="13.00" height="20.20" fill="none" stroke="#a85a5a" stroke-width="0.45"/>
<text x="687.4" y="470.8" font-size="6.1" fill="#000" text-anchor="middle" textLength="15.6" lengthAdjust="spacingAndGlyphs">100K</text>
<rect x="697.75" y="432.98" width="13.00" height="39.39" fill="#8e9c9b"/>
<rect x="697.75" y="472.37" width="13.00" height="22.83" fill="#770000"/>
<rect x="697.75" y="432.98" width="13.00" height="62.22" fill="none" stroke="#a85a5a" stroke-width="0.45"/>
<text x="704.6" y="428.9" font-size="6.1" fill="#000" text-anchor="middle" textLength="15.6" lengthAdjust="spacingAndGlyphs">308K</text>
<rect x="715.05" y="395.82" width="13.00" height="50.10" fill="#8e9c9b"/>
<rect x="715.05" y="445.91" width="13.00" height="49.29" fill="#770000"/>
<rect x="715.05" y="395.82" width="13.00" height="99.38" fill="none" stroke="#a85a5a" stroke-width="0.45"/>
<text x="721.9" y="390.7" font-size="6.1" fill="#000" text-anchor="middle" textLength="15.6" lengthAdjust="spacingAndGlyphs">492K</text>
<rect x="732.35" y="420.26" width="13.00" height="40.60" fill="#8e9c9b"/>
<rect x="732.35" y="460.86" width="13.00" height="34.34" fill="#770000"/>
<rect x="732.35" y="420.26" width="13.00" height="74.94" fill="none" stroke="#a85a5a" stroke-width="0.45"/>
<text x="739.2" y="414.1" font-size="6.1" fill="#000" text-anchor="middle" textLength="15.6" lengthAdjust="spacingAndGlyphs">371K</text>
<rect x="749.65" y="396.42" width="13.00" height="73.73" fill="#8e9c9b"/>
<rect x="749.65" y="470.15" width="13.00" height="25.05" fill="#770000"/>
<rect x="749.65" y="396.42" width="13.00" height="98.78" fill="none" stroke="#a85a5a" stroke-width="0.45"/>
<text x="756.5" y="390.7" font-size="6.1" fill="#000" text-anchor="middle" textLength="15.6" lengthAdjust="spacingAndGlyphs">489K</text>
<rect x="766.95" y="465.10" width="13.00" height="17.98" fill="#8e9c9b"/>
<rect x="766.95" y="483.08" width="13.00" height="12.12" fill="#770000"/>
<rect x="766.95" y="465.10" width="13.00" height="30.10" fill="none" stroke="#a85a5a" stroke-width="0.45"/>
<text x="773.9" y="460.0" font-size="6.1" fill="#000" text-anchor="middle" textLength="15.6" lengthAdjust="spacingAndGlyphs">149K</text>
<rect x="784.25" y="482.47" width="13.00" height="12.73" fill="#770000"/>
<rect x="784.25" y="482.47" width="13.00" height="12.73" fill="none" stroke="#a85a5a" stroke-width="0.45"/>
<text x="791.1" y="476.8" font-size="6.1" fill="#000" text-anchor="middle" textLength="11.8" lengthAdjust="spacingAndGlyphs">81K</text>
<rect x="801.55" y="476.01" width="13.00" height="19.19" fill="#770000"/>
<rect x="801.55" y="476.01" width="13.00" height="19.19" fill="none" stroke="#a85a5a" stroke-width="0.45"/>
<text x="808.4" y="470.8" font-size="6.1" fill="#000" text-anchor="middle" textLength="11.8" lengthAdjust="spacingAndGlyphs">95K</text>
<rect x="609.20" y="373.60" width="0.80" height="122.00" fill="#1c1212"/>
<rect x="609.20" y="494.80" width="208.40" height="0.80" fill="#1c1212"/>
<rect x="609.60" y="494.70" width="4.60" height="1.00" fill="#1c1212"/>
<text x="606.0" y="499.3" font-size="5.3" fill="#1c1212" text-anchor="end" textLength="3.2" lengthAdjust="spacingAndGlyphs" font-weight="700">0</text>
<rect x="609.60" y="474.50" width="4.60" height="1.00" fill="#1c1212"/>
<text x="606.0" y="479.1" font-size="5.3" fill="#1c1212" text-anchor="end" textLength="9.8" lengthAdjust="spacingAndGlyphs" font-weight="700">100</text>
<rect x="609.60" y="454.30" width="4.60" height="1.00" fill="#1c1212"/>
<text x="606.0" y="458.9" font-size="5.3" fill="#1c1212" text-anchor="end" textLength="9.8" lengthAdjust="spacingAndGlyphs" font-weight="700">200</text>
<rect x="609.60" y="434.10" width="4.60" height="1.00" fill="#1c1212"/>
<text x="606.0" y="438.7" font-size="5.3" fill="#1c1212" text-anchor="end" textLength="9.8" lengthAdjust="spacingAndGlyphs" font-weight="700">300</text>
<rect x="609.60" y="413.90" width="4.60" height="1.00" fill="#1c1212"/>
<text x="606.0" y="418.5" font-size="5.3" fill="#1c1212" text-anchor="end" textLength="9.8" lengthAdjust="spacingAndGlyphs" font-weight="700">400</text>
<rect x="609.60" y="393.70" width="4.60" height="1.00" fill="#1c1212"/>
<text x="606.0" y="398.3" font-size="5.3" fill="#1c1212" text-anchor="end" textLength="9.8" lengthAdjust="spacingAndGlyphs" font-weight="700">500</text>
<rect x="609.60" y="373.50" width="4.60" height="1.00" fill="#1c1212"/>
<text x="606.0" y="378.1" font-size="5.3" fill="#1c1212" text-anchor="end" textLength="9.8" lengthAdjust="spacingAndGlyphs" font-weight="700">600</text>
<rect x="626.35" y="492.20" width="1.10" height="3.00" fill="#1c1212"/>
<rect x="643.65" y="492.20" width="1.10" height="3.00" fill="#1c1212"/>
<rect x="660.95" y="492.20" width="1.10" height="3.00" fill="#1c1212"/>
<rect x="678.25" y="492.20" width="1.10" height="3.00" fill="#1c1212"/>
<rect x="695.55" y="492.20" width="1.10" height="3.00" fill="#1c1212"/>
<rect x="712.85" y="492.20" width="1.10" height="3.00" fill="#1c1212"/>
<rect x="730.15" y="492.20" width="1.10" height="3.00" fill="#1c1212"/>
<rect x="747.45" y="492.20" width="1.10" height="3.00" fill="#1c1212"/>
<rect x="764.75" y="492.20" width="1.10" height="3.00" fill="#1c1212"/>
<rect x="782.05" y="492.20" width="1.10" height="3.00" fill="#1c1212"/>
<rect x="799.35" y="492.20" width="1.10" height="3.00" fill="#1c1212"/>
<rect x="816.65" y="492.20" width="1.10" height="3.00" fill="#1c1212"/>
<text x="618.3" y="502.6" font-size="6.1" fill="#000" text-anchor="middle" textLength="10.0" lengthAdjust="spacingAndGlyphs">Jun</text>
<text x="635.5" y="502.6" font-size="6.1" fill="#000" text-anchor="middle" textLength="8.9" lengthAdjust="spacingAndGlyphs">Jul</text>
<text x="652.8" y="502.6" font-size="6.1" fill="#000" text-anchor="middle" textLength="11.6" lengthAdjust="spacingAndGlyphs">Aug</text>
<text x="670.0" y="502.6" font-size="6.1" fill="#000" text-anchor="middle" textLength="11.2" lengthAdjust="spacingAndGlyphs">Sep</text>
<text x="687.3" y="502.6" font-size="6.1" fill="#000" text-anchor="middle" textLength="10.6" lengthAdjust="spacingAndGlyphs">Oct</text>
<text x="704.5" y="502.6" font-size="6.1" fill="#000" text-anchor="middle" textLength="11.4" lengthAdjust="spacingAndGlyphs">Nov</text>
<text x="721.8" y="502.6" font-size="6.1" fill="#000" text-anchor="middle" textLength="11.2" lengthAdjust="spacingAndGlyphs">Dec</text>
<text x="739.0" y="502.6" font-size="6.1" fill="#000" text-anchor="middle" textLength="10.0" lengthAdjust="spacingAndGlyphs">Jan</text>
<text x="756.3" y="502.6" font-size="6.1" fill="#000" text-anchor="middle" textLength="10.6" lengthAdjust="spacingAndGlyphs">Feb</text>
<text x="773.5" y="502.6" font-size="6.1" fill="#000" text-anchor="middle" textLength="11.4" lengthAdjust="spacingAndGlyphs">Mar</text>
<text x="790.8" y="502.6" font-size="6.1" fill="#000" text-anchor="middle" textLength="10.8" lengthAdjust="spacingAndGlyphs">Apr</text>
<text x="808.0" y="502.6" font-size="6.1" fill="#000" text-anchor="middle" textLength="12.4" lengthAdjust="spacingAndGlyphs">May</text>
<polyline points="610.7,508.7 610.7,511.4 678.4,511.4" fill="none" stroke="#151515" stroke-width="0.75"/>
<polyline points="702.6,511.4 731,511.4 731,508.7" fill="none" stroke="#151515" stroke-width="0.75"/>
<polyline points="729,508.7 729,511.9 764.5,511.9" fill="none" stroke="#777" stroke-width="0.9"/>
<polyline points="786,511.9 817.2,511.9 817.2,508.7" fill="none" stroke="#151515" stroke-width="0.75"/>
<text x="689.5" y="513.5" font-size="5.0" fill="#000" text-anchor="middle" textLength="11.8" lengthAdjust="spacingAndGlyphs" font-weight="700">2021</text>
<text x="774.7" y="514.0" font-size="5.0" fill="#000" text-anchor="middle" textLength="11.8" lengthAdjust="spacingAndGlyphs" font-weight="700">2022</text>
<rect x="621.10" y="530.80" width="13.60" height="6.90" fill="#8e9c9b"/>
<text x="640.3" y="536.4" font-size="5.5" fill="#000" textLength="130.3" lengthAdjust="spacingAndGlyphs">Seasonal and/or supplementary NFI assistance</text>
<rect x="621.10" y="548.60" width="13.60" height="6.90" fill="#770000"/>
<text x="640.3" y="555.6" font-size="5.5" fill="#000" textLength="107.7" lengthAdjust="spacingAndGlyphs">Core NFI (Non-Food Items) distribution</text>
<rect x="350.50" y="179.90" width="17.80" height="17.50" rx="3.6" ry="3.6" fill="#770000"/>
<path d="M353.8,193.9 Q357.2,191.8 358.3,187.4 Q359.4,191.8 362.8,193.9 Z" fill="#fff"/>
<polygon points="357.7,193.9 358.3,189.4 358.9,193.9" fill="#770000"/>
<path d="M358.3,187.6 L360.2,184.2 M360.2,184.2 L364.8,191.0" stroke="#a04040" stroke-width="0.4" stroke-dasharray="0.6 1.2" fill="none"/>
<rect x="350.50" y="207.90" width="17.80" height="17.10" rx="3.6" ry="3.6" fill="#770000"/>
<polygon points="357.3,210.6 362.6,210.6 365.5,222.4 354.0,222.4" fill="#fff"/>
<rect x="359.3" y="211.2" width="1.4" height="1.3" fill="#770000"/>
<rect x="359.3" y="214.0" width="1.4" height="1.5" fill="#770000"/>
<rect x="359.3" y="217.2" width="1.4" height="1.7" fill="#770000"/>
<rect x="359.3" y="220.6" width="1.4" height="1.8" fill="#770000"/>
<rect x="350.80" y="235.60" width="18.20" height="18.20" rx="3.6" ry="3.6" fill="#770000"/>
<polygon points="353.5,243.6 359.8,239.0 366.1,243.6 366.1,250.8 353.5,250.8" fill="#fff"/>
<polygon points="355.9,244.0 359.8,241.2 363.7,244.0" fill="#770000"/>
<path d="M355.4,249.6 L361.0,244.6" stroke="#770000" stroke-width="1.5" fill="none" stroke-linecap="round"/>
<path d="M358.0,242.6 Q361.6,242.4 364.0,246.4 L364.2,248.0 L362.6,248.2 Q362.0,245.6 359.2,244.6 Z" fill="#770000"/>
<rect x="350.80" y="263.70" width="18.20" height="17.80" rx="3.6" ry="3.6" fill="#770000"/>
<rect x="355.8" y="272.3" width="8.3" height="4.9" fill="#fff"/>
<polyline points="354.2,272.0 359.9,268.5 365.7,272.0" fill="none" stroke="#fff" stroke-width="1.3" stroke-linecap="square"/>
<polygon points="357.0,272.0 359.9,270.2 362.9,272.0" fill="#fff" opacity="0.0"/>
</svg>
</body></html>
